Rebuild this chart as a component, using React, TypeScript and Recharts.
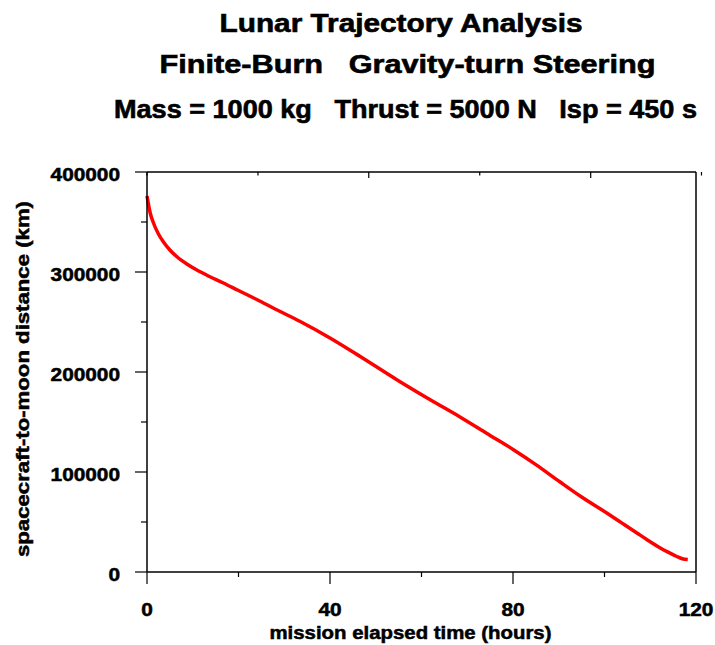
import { Line, LineChart, XAxis, YAxis } from "recharts";

// mission elapsed time (hours) and spacecraft-to-moon distance (km)
const hours = [
  0, 0.7, 1.5, 2.5, 3.6, 5, 6.6, 8.7, 10.9, 13, 16.7, 20, 24, 28, 33.5, 40,
  46.6, 54.6, 62, 68.5, 75, 80.1, 85, 90.3, 95, 100.5, 104, 107, 109.3, 112.2,
  114, 115.8, 117, 118.2,
];
const distanceKm = [
  376000, 359000, 348000, 338000, 330000, 322000, 315000, 308000, 302000,
  297000, 289000, 281500, 272500, 263000, 250500, 234000, 215500, 192300,
  172000, 154800, 136600, 122300, 107400, 90000, 75000, 59000, 48400, 39300,
  32300, 24000, 19600, 15500, 13300, 12400,
];

const bottomTicks = [0, 20, 40, 60, 80, 100, 120];
const bottomLabels = [0, 40, 80, 120];
const topTicks = [
  0, 6.67, 13.33, 20, 26.67, 33.33, 40, 46.67, 53.33, 60, 66.67, 73.33, 80,
  86.67, 93.33, 100, 106.67, 113.33, 120,
];
const topMajors = [13.33, 26.67, 40, 53.33, 66.67, 80, 93.33, 106.67, 120];
const leftTicks = [0, 50000, 100000, 150000, 200000, 250000, 300000, 350000, 400000];
const leftLabels = [0, 100000, 200000, 300000, 400000];

const titleLines = [
  "Lunar Trajectory Analysis",
  "Finite-Burn   Gravity-turn Steering",
  "Mass = 1000 kg   Thrust = 5000 N   Isp = 450 s",
];
const xLabel = "mission elapsed time (hours)";
const yLabel = "spacecraft-to-moon distance (km)";

const data = hours.map((t, i) => ({ t, d: distanceKm[i] }));

const FONT = "'Liberation Sans', Arial, Helvetica, sans-serif";
const STRETCH = 1.19;

// keep the runs of spaces between title groups
const keepSpaces = (s: string) => s.replace(/ {2,}/g, (m) => "\u00a0".repeat(m.length));

const tickText = {
  fontFamily: FONT,
  fontWeight: "bold" as const,
  fontSize: 17.5,
  fill: "#000",
  stroke: "#000",
  strokeWidth: 0.5,
};

const BottomTick = (props: any) => {
  const { x, y, payload } = props;
  const major = bottomLabels.includes(payload.value);
  return (
    <g>
      <line x1={x} y1={y} x2={x} y2={y + (major ? 12 : 5)} stroke="#000" strokeWidth={1.2} />
      {major && (
        <text transform={`translate(${x},${y + 44}) scale(${STRETCH},1)`} textAnchor="middle" {...tickText}>
          {payload.value}
        </text>
      )}
    </g>
  );
};

const TopTick = (props: any) => {
  const { x, y, payload } = props;
  const major = topMajors.includes(payload.value);
  return <line x1={x} y1={y} x2={x} y2={y + (major ? 6 : 3.5)} stroke="#000" strokeWidth={1.2} />;
};

const LeftTick = (props: any) => {
  const { x, y, payload } = props;
  const major = leftLabels.includes(payload.value);
  return (
    <g>
      <line x1={x} y1={y} x2={x - (major ? 12 : 6)} y2={y} stroke="#000" strokeWidth={1.2} />
      {major && (
        <text transform={`translate(${x - 27},${y + 8.5}) scale(${STRETCH},1)`} textAnchor="end" {...tickText}>
          {payload.value}
        </text>
      )}
    </g>
  );
};

const RightTick = (props: any) => {
  const { x, y } = props;
  return <line x1={x} y1={y} x2={x - 8} y2={y} stroke="#000" strokeWidth={1.2} />;
};

const axisLine = { stroke: "#000", strokeWidth: 1.5 };

export default function App() {
  return (
    <div style={{ position: "absolute", left: 0, top: 0, width: 715, height: 645, background: "#fff" }}>
      <LineChart width={715} height={645} data={data} margin={{ top: 0, right: 0, bottom: 0, left: 0 }}>
        <XAxis
          dataKey="t"
          type="number"
          domain={[0, 120]}
          ticks={bottomTicks}
          interval={0}
          height={73}
          tickSize={0}
          tickMargin={0}
          tickLine={false}
          axisLine={axisLine}
          tick={<BottomTick />}
        />
        <XAxis
          xAxisId="top"
          orientation="top"
          type="number"
          domain={[0, 120]}
          ticks={topTicks}
          interval={0}
          height={172}
          tickSize={0}
          tickMargin={0}
          tickLine={false}
          axisLine={axisLine}
          tick={<TopTick />}
        />
        <YAxis
          type="number"
          domain={[0, 400000]}
          ticks={leftTicks}
          interval={0}
          width={147}
          tickSize={0}
          tickMargin={0}
          tickLine={false}
          axisLine={axisLine}
          tick={<LeftTick />}
        />
        <YAxis
          yAxisId="right"
          orientation="right"
          type="number"
          domain={[0, 400000]}
          ticks={leftTicks}
          interval={0}
          width={19}
          tickSize={0}
          tickMargin={0}
          tickLine={false}
          axisLine={axisLine}
          tick={<RightTick />}
        />
        <Line
          dataKey="d"
          type="monotone"
          stroke="#ff0000"
          strokeWidth={3.5}
          dot={false}
          isAnimationActive={false}
        />
      </LineChart>
      <svg
        width={715}
        height={645}
        style={{ position: "absolute", left: 0, top: 0, pointerEvents: "none" }}
      >
        <g fontFamily={FONT} fontWeight="bold" fill="#000" stroke="#000" strokeWidth={0.6}>
          <text x={401} y={31.7} fontSize={25} textAnchor="middle" textLength={363} lengthAdjust="spacingAndGlyphs">
            {titleLines[0]}
          </text>
          <text x={407.5} y={73.3} fontSize={25} textAnchor="middle" textLength={496} lengthAdjust="spacingAndGlyphs">
            {keepSpaces(titleLines[1])}
          </text>
          <text x={405.5} y={117.5} fontSize={25} textAnchor="middle" textLength={583} lengthAdjust="spacingAndGlyphs">
            {keepSpaces(titleLines[2])}
          </text>
          <text x={410.5} y={639} fontSize={18} textAnchor="middle" textLength={282} lengthAdjust="spacingAndGlyphs" strokeWidth={0.5}>
            {xLabel}
          </text>
          <text
            transform="translate(29,379) rotate(-90)"
            fontSize={18.5}
            textAnchor="middle"
            textLength={356}
            lengthAdjust="spacingAndGlyphs"
            strokeWidth={0.5}
          >
            {yLabel}
          </text>
        </g>
      </svg>
    </div>
  );
}
